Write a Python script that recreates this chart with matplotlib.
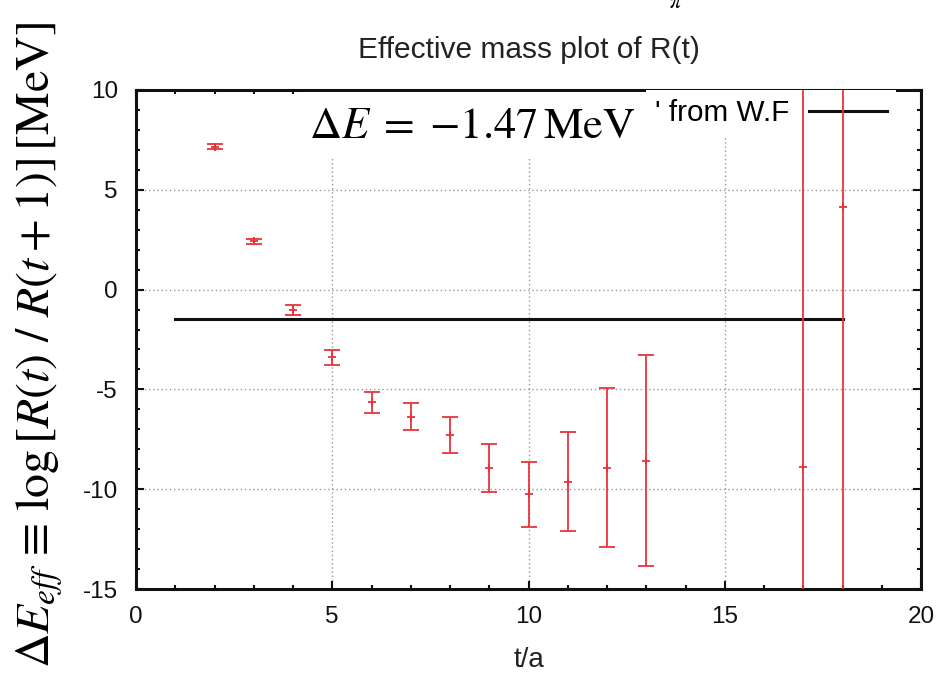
import numpy as np
import matplotlib
matplotlib.use("Agg")
from matplotlib import pyplot as plt
from matplotlib.patches import Rectangle
from matplotlib.ticker import MultipleLocator

plt.rcParams['font.family'] = ['Liberation Sans', 'DejaVu Sans']
plt.rcParams['mathtext.fontset'] = 'stix'
plt.rcParams['axes.unicode_minus'] = False

# effective mass points (t=14..16 missing)
t = [2, 3, 4, 5, 6, 7, 8, 9, 10, 11, 12, 13, 17, 18]
dE = [7.16, 2.43, -1.02, -3.39, -5.64, -6.37, -7.28, -8.92, -10.26, -9.62, -8.92, -8.57, -8.87, 4.12]
err = [0.13, 0.13, 0.27, 0.37, 0.52, 0.68, 0.9, 1.2, 1.62, 2.49, 4.0, 5.3, 40.0, 40.0]

# fit value from wave function
dE_wf = -1.47
t_fit = [1, 18]

red = '#e8333b'

fig = plt.figure(figsize=(9.44, 6.77), dpi=100)
ax = fig.add_axes([136/944, 1-589/677, 785/944, 499/677])

ax.errorbar(t, dE, yerr=err, fmt='+', color=red, ecolor=red, elinewidth=1.3,
            capsize=6, capthick=1.3, markersize=6, mew=1.3, zorder=5.5)
line, = ax.plot(t_fit, [dE_wf, dE_wf], color='#111111', lw=2.2, zorder=4,
                label="' from W.F")

ax.set_xlim(0, 20)
ax.set_ylim(-15, 10)
ax.xaxis.set_major_locator(MultipleLocator(5))
ax.xaxis.set_minor_locator(MultipleLocator(1))
ax.yaxis.set_major_locator(MultipleLocator(5))
ax.yaxis.set_minor_locator(MultipleLocator(1))
ax.tick_params(which='both', direction='in', top=True, right=True, width=1.5, colors='#111111')
ax.tick_params(which='major', length=5.5, labelsize=17.5, pad=13)
ax.tick_params(which='minor', length=3.2)
ax.tick_params(axis='x', which='major', pad=12)
for s in ax.spines.values():
    s.set_linewidth(2.2)
    s.set_color('#111111')
ax.grid(True, which='major', ls=(0, (1, 2)), color='#999999', lw=1)
ax.set_axisbelow(True)

ax.set_title('Effective mass plot of R(t)', fontsize=21.5, pad=23, color='#222222')
ax.set_xlabel('t/a', fontsize=20, labelpad=14, color='#222222')

leg = ax.legend(handles=[line], loc='upper right', bbox_to_anchor=(0.968, 1.0),
                fontsize=21.3, markerfirst=False, handlelength=2.65, handletextpad=0.65,
                borderpad=0.3, borderaxespad=0, fancybox=False, framealpha=1)
leg.get_frame().set_edgecolor('none')
leg.set_zorder(5)

# white box pasted over the legend with the fitted value
ax.add_patch(Rectangle((4.18, 6.64), 13.05 - 4.18, 9.9 - 6.64, facecolor='white',
                       edgecolor='none', zorder=6))
ax.text(8.57, 7.6, r'$\Delta E\;=\;{-}1.47\,\mathrm{MeV}$', fontsize=32, ha='center',
        va='baseline', zorder=7)

fig.text(40/944, 1-345/677,
         r'$\Delta E_{eff}\,\equiv\,\log\left[R(t)\ /\ R(t+1)\right]\,[\mathrm{MeV}]$',
         rotation=90, ha='center', va='center', fontsize=34.5)
fig.text(676/944, 1-2/677, r'$\pi$', fontsize=16, ha='center', va='center')

fig.savefig('out.png', dpi=100)
